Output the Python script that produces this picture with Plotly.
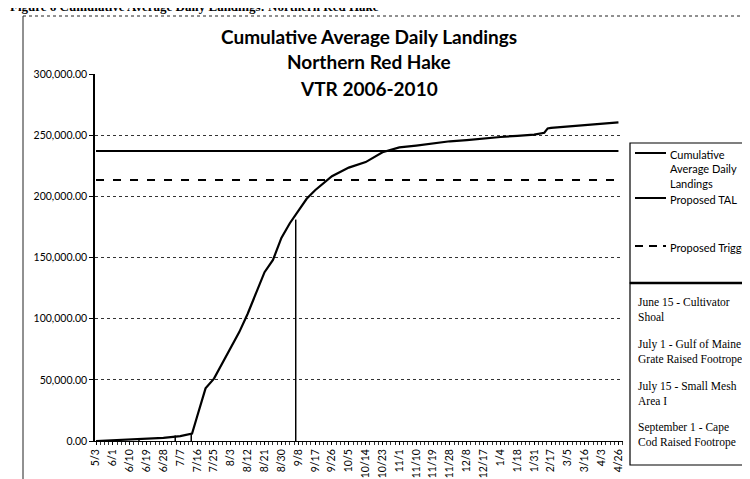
import plotly.graph_objects as go

# ---------------- data ----------------
tick_labels = ["5/3", "6/1", "6/10", "6/19", "6/28", "7/7", "7/16", "7/25", "8/3", "8/12",
               "8/21", "8/30", "9/8", "9/17", "9/26", "10/5", "10/14", "10/23", "11/1", "11/10",
               "11/19", "11/28", "12/8", "12/17", "1/4", "1/18", "1/31", "2/17", "3/5", "3/16",
               "4/3", "4/26"]

# positions along the category axis (index of tick label) where the curve was read
cum_pos = [0, 1, 2, 3, 4, 5, 5.5, 5.7, 6, 6.5, 7, 7.5, 8, 8.5, 9, 9.5, 10, 10.5, 11, 11.5,
           12, 12.5, 13, 13.5, 14, 15, 16, 17, 18, 19, 20, 21, 22, 23, 24, 25, 26, 26.6,
           26.8, 27, 28, 29, 30, 31]
cum_vals = [0, 500, 1000, 2000, 2500, 4000, 5000, 6000, 20000, 43000, 51000, 64000, 77000,
            89000, 104000, 121000, 138000, 148000, 166000, 178000, 188000, 198000, 205000,
            211000, 216500, 223500, 228000, 236000, 240000, 241500, 243500, 245000, 246000,
            247500, 248500, 249500, 250500, 252000, 255500, 256000, 257000, 258000, 259000,
            260500]

tal_value = 237000
trigger_value = 213300

event_labels = ["June 15 - Cultivator<br>Shoal",
                "July 1 - Gulf of Maine<br>Grate Raised Footrope",
                "July 15 - Small Mesh<br>Area I",
                "September 1 - Cape<br>Cod Raised Footrope"]
event_pos = [2.55, 4.7, 5.65, 11.85]
event_vals = [1500, 4500, 5500, 181000]

series_names = ["Cumulative<br>Average Daily<br>Landings", "Proposed TAL", "Proposed Trigger"]
title_lines = ["Cumulative Average Daily Landings", "Northern Red Hake", "VTR 2006-2010"]
caption = "Figure 6 Cumulative Average Daily Landings: Northern Red Hake"

# ---------------- layout geometry (pixels) ----------------
W, H = 750, 479
L, R, T, B = 87, 615, 66, 433


def px(x):
    return (x - L) / (R - L)


def py(y):
    return (B - y) / (B - T)


fig = go.Figure()

first, last = 0, len(tick_labels) - 1

fig.add_trace(go.Scatter(x=[first, last], y=[tal_value, tal_value], mode="lines",
                         line=dict(color="black", width=2), name="Proposed TAL",
                         showlegend=False))
fig.add_trace(go.Scatter(x=[first, last], y=[trigger_value, trigger_value], mode="lines",
                         line=dict(color="black", width=2, dash="8px,9px"),
                         name="Proposed Trigger", showlegend=False))
for p, v in zip(event_pos, event_vals):
    fig.add_trace(go.Scatter(x=[p, p], y=[0, v], mode="lines",
                             line=dict(color="black", width=1.5), showlegend=False,
                             hoverinfo="skip"))
fig.add_trace(go.Scatter(x=cum_pos, y=cum_vals, mode="lines",
                         line=dict(color="black", width=2.2),
                         name="Cumulative Average Daily Landings", showlegend=False))

fig.update_layout(
    width=W, height=H,
    margin=dict(l=L, r=W - R, t=T, b=H - B, autoexpand=False),
    paper_bgcolor="white", plot_bgcolor="white",
    showlegend=False,
    font=dict(family="Lato", color="black"),
)

fig.update_xaxes(
    range=[-0.06, 31.27],
    tickmode="array", tickvals=list(range(len(tick_labels))), ticktext=tick_labels,
    tickangle=-90, tickfont=dict(family="Lato", size=10.5, color="black"),
    showgrid=False, zeroline=False,
    showline=True, linecolor="black", linewidth=1,
    ticks="outside", ticklen=3, tickcolor="black",
    minor=dict(ticks="outside", ticklen=3, dtick=0.25, tickcolor="#333", showgrid=False),
)
fig.update_yaxes(
    range=[0, 300000], tickmode="linear", tick0=0, dtick=50000, tickformat=",.2f",
    tickfont=dict(family="Lato", size=10.5, color="black"),
    showgrid=True, gridcolor="#333", gridwidth=1, griddash="dot",
    zeroline=False, showline=True, linecolor="black", linewidth=1.5,
    ticks="outside", ticklen=4, tickcolor="black",
)

shapes = []
annotations = []

# chart-area border (scan frame)
shapes.append(dict(type="line", xref="paper", yref="paper", x0=px(15), x1=px(760),
                   y0=py(8), y1=py(8), line=dict(color="#222", width=1, dash="dot")))
shapes.append(dict(type="line", xref="paper", yref="paper", x0=px(15), x1=px(15),
                   y0=py(8), y1=py(490), line=dict(color="#222", width=1)))

# caption (cut off at the top of the page)
annotations.append(dict(text="<b>" + caption + "</b>", xref="paper", yref="paper",
                        x=px(0), y=py(8), xanchor="left", yanchor="bottom", showarrow=False,
                        font=dict(family="Liberation Serif", size=13, color="black")))

# chart titles
for txt, yy in zip(title_lines, [29, 54, 80]):
    annotations.append(dict(text="<b>" + txt + "</b>", xref="paper", yref="paper",
                            x=px(361), y=py(yy), xanchor="center", yanchor="middle",
                            showarrow=False,
                            font=dict(family="Lato", size=19, color="black")))

# legend box 1
shapes.append(dict(type="rect", xref="paper", yref="paper", x0=px(622), x1=px(760),
                   y0=py(135), y1=py(275), line=dict(color="black", width=1.2),
                   fillcolor="white", layer="above"))
leg_rows = [(145, "solid"), (190, "solid"), (238, "dash")]
for name, (yy, dash) in zip(series_names, leg_rows):
    shapes.append(dict(type="line", xref="paper", yref="paper", x0=px(627), x1=px(658),
                       y0=py(yy), y1=py(yy),
                       line=dict(color="black", width=2,
                                 dash="8px,6px" if dash == "dash" else "solid")))
    annotations.append(dict(text=name, xref="paper", yref="paper", x=px(660),
                            y=py(yy - 7), xanchor="left", yanchor="top", align="left",
                            showarrow=False,
                            font=dict(family="Lato", size=11, color="black")))

# legend box 2 (regulation dates)
shapes.append(dict(type="rect", xref="paper", yref="paper", x0=px(622), x1=px(760),
                   y0=py(275), y1=py(457), line=dict(color="black", width=1.2),
                   fillcolor="white", layer="above"))
shapes.append(dict(type="line", xref="paper", yref="paper", x0=px(622), x1=px(760),
                   y0=py(275), y1=py(275), line=dict(color="black", width=2.5)))
for txt, yy in zip(event_labels, [286, 328, 370, 411]):
    annotations.append(dict(text=txt, xref="paper", yref="paper", x=px(628), y=py(yy),
                            xanchor="left", yanchor="top", align="left", showarrow=False,
                            font=dict(family="Liberation Serif", size=11.5, color="black")))

fig.update_layout(shapes=shapes, annotations=annotations)
fig.write_html("out.html")
